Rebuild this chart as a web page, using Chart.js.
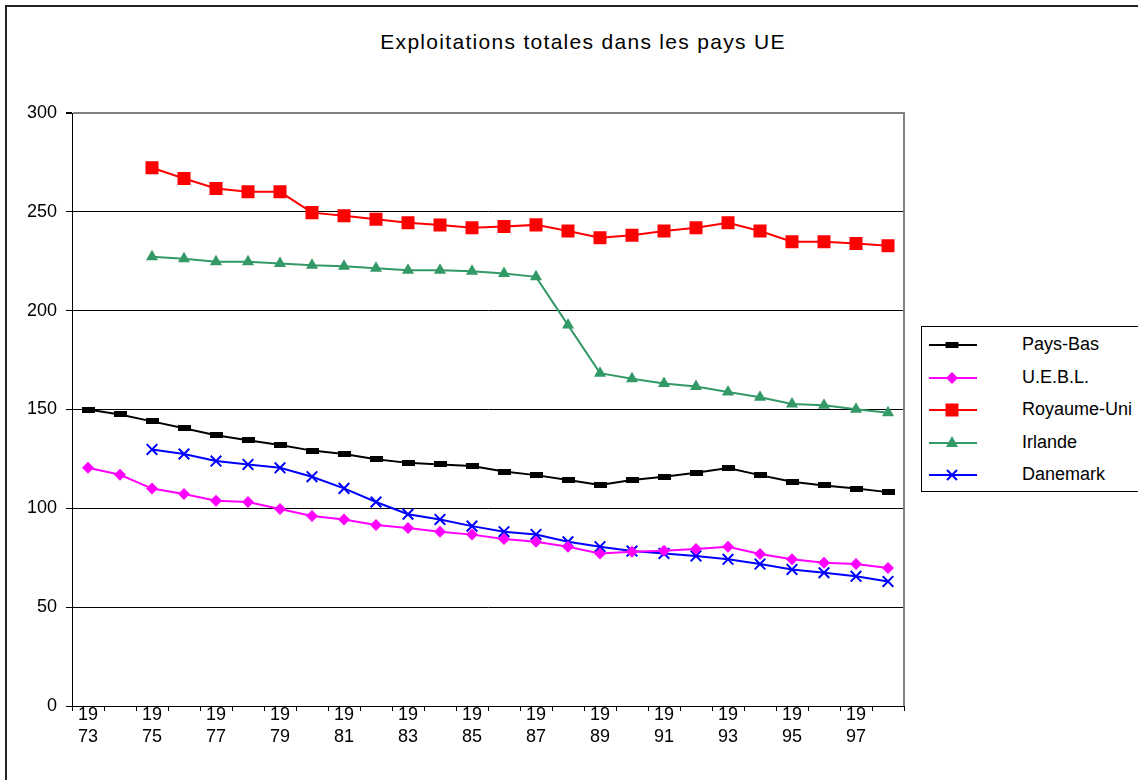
<!DOCTYPE html>
<html>
<head>
<meta charset="utf-8">
<script src="https://cdn.jsdelivr.net/npm/chart.js@4.4.0/dist/chart.umd.min.js"></script>
<style>
  body { margin: 0; background: #fff; font-family: "Liberation Sans", Arial, sans-serif; }
  #wrap { position: relative; width: 1138px; height: 780px; overflow: hidden; }
  #frame { position: absolute; left: 5px; top: 5px; width: 1200px; height: 850px; border: 2px solid #222; box-sizing: border-box; }
  #title { position: absolute; top: 30px; left: 0; width: 1166px; text-align: center; font-size: 21px; letter-spacing: 1.3px; color: #000; }
  #chart { position: absolute; left: 0; top: 0; }
  #legend { position: absolute; left: 921px; top: 326px; width: 240px; height: 166px; border: 1px solid #000; box-sizing: border-box; background: #fff; padding-top: 1px; }
  .item { position: relative; height: 32.5px; }
  .item svg { position: absolute; left: 6px; top: 6px; }
  .item span { position: absolute; left: 100px; top: 5px; font-size: 18px; line-height: 22px; color: #000; }
</style>
</head>
<body>
<div id="wrap">
  <div id="frame"></div>
  <div id="title">Exploitations totales dans les pays UE</div>
  <canvas id="chart" width="1138" height="780"></canvas>
  <div id="legend"></div>
</div>
<script>
const years = ["1973", "1974", "1975", "1976", "1977", "1978", "1979", "1980", "1981", "1982", "1983", "1984", "1985",
  "1986", "1987", "1988", "1989", "1990", "1991", "1992", "1993", "1994", "1995", "1996", "1997", "1998"];

const paysBas = [150, 147.5, 144, 140.5, 137, 134.5, 132, 129.2, 127.5, 124.8, 123, 122.2, 121.4,
  118.6, 116.8, 114.3, 111.8, 114.3, 116, 118, 120.4, 116.8, 113.4, 111.6, 110, 108.2];
const uebl = [120.5, 117, 110, 107.2, 103.8, 103.2, 99.7, 96.1, 94.4, 91.6, 90, 88.2, 86.7,
  84.5, 83.1, 80.6, 77.2, 78, 78.6, 79.4, 80.6, 76.9, 74.2, 72.5, 71.8, 69.8];
const royaumeUni = [null, null, 272.3, 266.9, 261.8, 260.1, 260.1, 249.6, 248, 246.3, 244.5, 243.3, 241.9,
  242.6, 243.4, 240.3, 236.9, 238.2, 240.3, 241.9, 244.5, 240.3, 234.9, 234.9, 234, 232.8];
const irlande = [null, null, 227.3, 226.3, 224.8, 224.8, 223.9, 223, 222.5, 221.4, 220.5, 220.5, 220,
  218.8, 217.1, 192.7, 168.4, 165.6, 163.2, 161.6, 158.8, 156.2, 152.8, 152.1, 150.1, 148.3];
const danemark = [null, null, 129.8, 127.5, 123.9, 122.2, 120.5, 116, 110.1, 103.2, 97, 94.4, 91,
  88.2, 86.8, 83.1, 80.6, 78.4, 77.2, 75.9, 74.2, 71.8, 69.1, 67.4, 65.6, 63];

// wide flat black marker for Pays-Bas
const barMark = document.createElement("canvas");
barMark.width = 13;
barMark.height = 6;
barMark.getContext("2d").fillRect(0, 0, 13, 6);

const series = [
  { label: "Pays-Bas", data: paysBas, color: "#000000", pointStyle: barMark, radius: 6 },
  { label: "U.E.B.L.", data: uebl, color: "#FF00FF", pointStyle: "rectRot", radius: 6 },
  { label: "Royaume-Uni", data: royaumeUni, color: "#FF0000", pointStyle: "rect", radius: 9.2 },
  { label: "Irlande", data: irlande, color: "#339966", pointStyle: "triangle", radius: 7 },
  { label: "Danemark", data: danemark, color: "#0000FF", pointStyle: "crossRot", radius: 7.5 },
];

const rightBorder = {
  id: "rightBorder",
  afterDatasetsDraw(chart) {
    const { ctx, chartArea: a } = chart;
    ctx.save();
    ctx.strokeStyle = "#808080";
    ctx.lineWidth = 2;
    ctx.beginPath();
    ctx.moveTo(a.right, a.top - 1);
    ctx.lineTo(a.right, a.bottom);
    ctx.stroke();
    ctx.restore();
  },
};

const ctx = document.getElementById("chart").getContext("2d");
new Chart(ctx, {
  type: "line",
  data: {
    labels: years,
    datasets: series.map((s) => ({
      label: s.label,
      data: s.data,
      borderColor: s.color,
      backgroundColor: s.color,
      pointBorderColor: s.color,
      pointBackgroundColor: s.color,
      pointStyle: s.pointStyle,
      pointRadius: s.radius,
      pointBorderWidth: s.pointStyle === "crossRot" ? 2 : 0,
      borderWidth: 2,
      tension: 0,
      fill: false,
    })),
  },
  options: {
    responsive: false,
    animation: false,
    events: [],
    layout: { padding: { left: 0, top: 113, right: 234, bottom: 0 } },
    plugins: { legend: { display: false }, title: { display: false }, tooltip: { enabled: false } },
    scales: {
      x: {
        offset: true,
        grid: { offset: true, drawOnChartArea: false, tickLength: 5, color: "#000", tickColor: "#000" },
        border: { color: "#000", width: 1 },
        ticks: {
          autoSkip: false,
          maxRotation: 0,
          padding: -6,
          color: "#000",
          font: { family: "'Liberation Sans', Arial", size: 18, lineHeight: 1.17 },
          callback: function (v, i) {
            const y = years[i];
            return i % 2 === 0 ? [y.slice(0, 2), y.slice(2)] : "";
          },
        },
        afterFit(s) { s.height = 74; },
      },
      y: {
        min: 0,
        max: 300,
        ticks: {
          stepSize: 50,
          padding: 9,
          color: "#000",
          font: { family: "'Liberation Sans', Arial", size: 18 },
        },
        grid: {
          color: (c) => (c.tick && c.tick.value === 300 ? "#808080" : "#000"),
          lineWidth: (c) => (c.tick && c.tick.value === 300 ? 2 : 1),
          tickColor: "#000",
          tickLength: 6,
        },
        border: { color: "#000", width: 1 },
        afterFit(s) { s.width = 72; },
      },
    },
  },
  plugins: [rightBorder],
});

// legend: line with marker, then label
function markerSvg(s) {
  const c = s.color;
  let m = "";
  if (s.label === "Pays-Bas") m = `<rect x="17.5" y="8" width="13" height="6" fill="${c}"/>`;
  else if (s.pointStyle === "rectRot") m = `<polygon points="24,5 30,11 24,17 18,11" fill="${c}"/>`;
  else if (s.pointStyle === "rect") m = `<rect x="17.5" y="4.5" width="13" height="13" fill="${c}"/>`;
  else if (s.pointStyle === "triangle") m = `<polygon points="24,4 30,15 18,15" fill="${c}"/>`;
  else m = `<path d="M19,6 L29,16 M29,6 L19,16" stroke="${c}" stroke-width="2"/>`;
  return `<svg width="50" height="22"><line x1="1" y1="11" x2="49" y2="11" stroke="${c}" stroke-width="2"/>${m}</svg>`;
}
document.getElementById("legend").innerHTML = series
  .map((s) => `<div class="item">${markerSvg(s)}<span>${s.label}</span></div>`)
  .join("");
</script>
</body>
</html>
